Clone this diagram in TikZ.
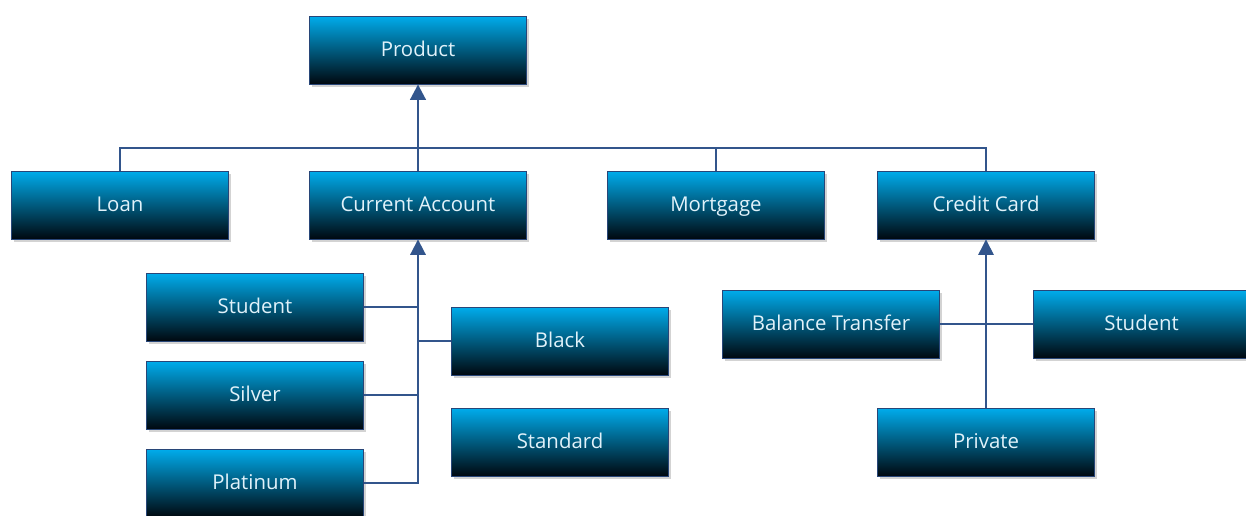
\documentclass[tikz,border=0pt]{standalone}
\usepackage{fontspec}
\setmainfont{Open Sans}
\usepackage{tikz}
\usetikzlibrary{shadows,arrows.meta}

\definecolor{bordoblu}{RGB}{40,70,120}
\definecolor{linea}{RGB}{50,85,140}
\definecolor{ciano}{RGB}{0,172,236}
\definecolor{medio}{RGB}{0,110,158}
\definecolor{fondo}{RGB}{0,8,15}
\definecolor{testo}{RGB}{225,242,250}

\begin{document}
\begin{tikzpicture}[
  scatola/.style={rectangle, draw=bordoblu, line width=0.6pt,
    top color=ciano, middle color=medio, bottom color=fondo,
    minimum width=5.425cm, minimum height=1.7cm,
    text height=2.1ex, text depth=0.3ex,
    text=testo, font=\fontsize{14.5}{17}\selectfont,
    drop shadow={shadow xshift=2pt, shadow yshift=-2pt, opacity=0.35}},
  filo/.style={draw=linea, line width=0.8pt},
  freccia/.style={filo, -{Triangle[length=11pt,width=11pt]}}
]

% Area del disegno
\useasboundingbox (0,0) rectangle (31.15,-12.875);

% Radice
\node[scatola] (prodotto) at (10.45,-1.25) {Product};

% Prodotti
\node[scatola] (prestito) at (3.0,-5.125) {Loan};
\node[scatola] (conto) at (10.45,-5.125) {Current Account};
\node[scatola] (mutuo) at (17.9,-5.125) {Mortgage};
\node[scatola] (carta) at (24.65,-5.125) {Credit Card};

% Tipi di conto corrente
\node[scatola] (studente) at (6.375,-7.675) {Student};
\node[scatola] (argento) at (6.375,-9.875) {Silver};
\node[scatola] (platino) at (6.375,-12.075) {Platinum};
\node[scatola] (nero) at (14.0,-8.525) {Black};
\node[scatola] (standard) at (14.0,-11.05) {Standard};

% Tipi di carta di credito
\node[scatola] (saldo) at (20.775,-8.1) {Balance Transfer};
\node[scatola] (studentecc) at (28.54,-8.1) {Student};
\node[scatola] (privata) at (24.65,-11.05) {Private};

% Linea orizzontale sotto Product
\coordinate (bus) at (0,-3.7);
\draw[filo] (prestito.north) -- (prestito.north |- bus) -- (carta.north |- bus) -- (carta.north);
\draw[filo] (mutuo.north) -- (mutuo.north |- bus);
\draw[filo] (conto.north) -- (conto.north |- bus);
\draw[freccia, line width=2pt] (conto.north |- bus) -- (prodotto.south);

% Conto corrente
\draw[freccia, line width=1.3pt] (platino.east) -| (conto.south);
\draw[filo] (studente.east) -- (studente.east -| conto.south);
\draw[filo] (argento.east) -- (argento.east -| conto.south);
\draw[filo] (nero.west) -- (nero.west -| conto.south);

% Carta di credito
\draw[freccia] (privata.north) -- (carta.south);
\draw[filo] (saldo.east) -- (studentecc.west);

\end{tikzpicture}
\end{document}
